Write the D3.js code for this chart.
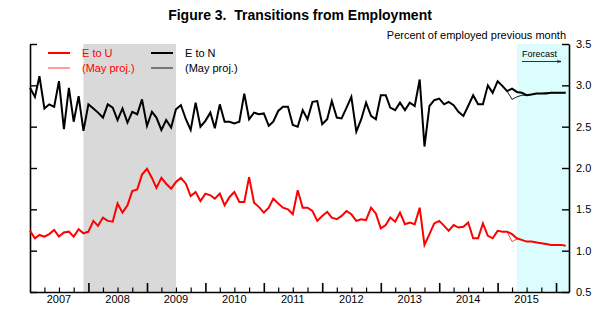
<!DOCTYPE html>
<html>
<head>
<meta charset="utf-8">
<script src="https://cdn.jsdelivr.net/npm/d3@7"></script>
<style>
  body { margin: 0; background: #fff; }
  svg { font-family: "Liberation Sans", Arial, Helvetica, sans-serif; }
  text { white-space: pre; }
</style>
</head>
<body>
<svg id="chart" width="600" height="325"></svg>
<script>
// ---- Data (monthly, Jan 2007 .. Mar 2016) ----
const startYear = 2007;
const eToU = [
  1.24,1.15,1.19,1.17,1.20,1.25,1.17,1.22,1.23,1.17,1.26,1.21,
  1.23,1.36,1.30,1.40,1.36,1.35,1.57,1.46,1.55,1.72,1.74,1.92,
  1.99,1.88,1.76,1.88,1.81,1.75,1.83,1.88,1.81,1.66,1.71,1.60,
  1.69,1.67,1.63,1.69,1.55,1.65,1.71,1.59,1.59,1.89,1.58,1.53,
  1.46,1.52,1.63,1.57,1.52,1.50,1.44,1.73,1.52,1.52,1.48,1.36,
  1.42,1.47,1.40,1.38,1.42,1.48,1.44,1.36,1.38,1.37,1.52,1.45,
  1.27,1.31,1.40,1.35,1.46,1.32,1.34,1.32,1.52,1.07,1.20,1.33,
  1.36,1.30,1.24,1.31,1.28,1.29,1.34,1.15,1.15,1.33,1.18,1.15,
  1.24,1.23,1.23,1.20,1.15,1.13,1.11,1.11,1.10,1.09,1.08,1.07,
  1.07,1.07,1.06
];
const eToN = [
  2.97,2.86,3.11,2.72,2.77,2.74,3.05,2.47,2.97,2.56,2.87,2.45,
  2.77,2.72,2.67,2.61,2.77,2.73,2.58,2.72,2.55,2.68,2.65,2.83,
  2.51,2.68,2.61,2.46,2.58,2.49,2.71,2.76,2.59,2.46,2.79,2.50,
  2.57,2.67,2.48,2.77,2.56,2.56,2.54,2.56,2.90,2.59,2.67,2.65,
  2.66,2.51,2.56,2.69,2.74,2.74,2.52,2.50,2.70,2.59,2.80,2.81,
  2.53,2.59,2.81,2.61,2.60,2.73,2.86,2.44,2.59,2.79,2.63,2.59,
  2.88,2.88,2.73,2.70,2.79,2.70,2.79,2.75,3.07,2.26,2.75,2.82,
  2.84,2.77,2.80,2.76,2.68,2.63,2.75,2.88,2.77,2.77,3.00,2.91,
  3.05,2.99,2.93,2.96,2.92,2.91,2.88,2.89,2.90,2.90,2.90,2.91,
  2.91,2.91,2.91
];
// May projections (start at month index 98 = Mar 2015)
const projStart = 98;
const eToUMay = [1.23,1.11,1.14,1.13,1.11,1.11,1.10,1.09,1.08,1.07,1.07,1.07,1.06];
const eToNMay = [2.93,2.83,2.86,2.88,2.88,2.89,2.90,2.90,2.91,2.91,2.91,2.91,2.91];

const yTicks = [0.5, 1.0, 1.5, 2.0, 2.5, 3.0, 3.5];
const yearLabels = [2007, 2008, 2009, 2010, 2011, 2012, 2013, 2014, 2015];
const recession = [new Date(2007, 11, 1), new Date(2009, 6, 1)];
const forecastStart = new Date(2015, 4, 1);

const title = "Figure 3.  Transitions from Employment";
const unitsLabel = "Percent of employed previous month";

// ---- Layout ----
const svg = d3.select("#chart");
const L = 30, R = 569, T = 44, B = 292;

const x = d3.scaleTime()
  .domain([new Date(2007, 0, 1), new Date(2016, 2, 22)])
  .range([L, R]);
const y = d3.scaleLinear().domain([0.5, 3.5]).range([B, T]);

const monthDate = i => new Date(startYear, i, 1);

// shading
svg.append("rect")
  .attr("x", x(recession[0])).attr("y", T)
  .attr("width", x(recession[1]) - x(recession[0])).attr("height", B - T)
  .attr("fill", "#d9d9d9");
svg.append("rect")
  .attr("x", x(forecastStart)).attr("y", T)
  .attr("width", R - x(forecastStart)).attr("height", B - T)
  .attr("fill", "#dcfdfd");

// axes
const rightAxis = d3.axisRight(y).tickValues(yTicks).tickSizeInner(-7).tickSizeOuter(0)
  .tickPadding(7).tickFormat(d3.format(".1f"));
const gR = svg.append("g").attr("transform", `translate(${R},0)`).call(rightAxis);
gR.select(".domain").attr("stroke-width", 1.6);
gR.selectAll(".tick line").attr("stroke-width", 1.4);
gR.selectAll("text").attr("font-size", 11).attr("fill", "#000");

const leftAxis = d3.axisLeft(y).tickValues(yTicks).tickSizeInner(-7).tickSizeOuter(0).tickFormat("");
const gL = svg.append("g").attr("transform", `translate(${L},0)`).call(leftAxis);
gL.select(".domain").attr("stroke-width", 1.6);
gL.selectAll(".tick line").attr("stroke-width", 1.4);

// bottom axis: major ticks at year starts, minor quarterly
const quarters = d3.timeMonth.every(3).range(new Date(2007, 3, 1), new Date(2016, 2, 22))
  .filter(d => d.getMonth() !== 0);
const yearsTicks = d3.timeYear.range(new Date(2008, 0, 1), new Date(2016, 2, 22));
const gB = svg.append("g").attr("transform", `translate(0,${B})`);
gB.call(d3.axisBottom(x).tickValues(quarters).tickSizeInner(-4.5).tickSizeOuter(0).tickFormat(""));
gB.select(".domain").attr("stroke-width", 1.6);
gB.selectAll(".tick line").attr("stroke-width", 1.2);
const gB2 = svg.append("g").attr("transform", `translate(0,${B})`);
gB2.call(d3.axisBottom(x).tickValues(yearsTicks).tickSizeInner(-9).tickSizeOuter(0).tickFormat(""));
gB2.select(".domain").remove();
gB2.selectAll(".tick line").attr("stroke-width", 1.6);

svg.append("g").selectAll("text").data(yearLabels).join("text")
  .attr("x", d => x(new Date(d, 6, 1)))
  .attr("y", 303)
  .attr("text-anchor", "middle")
  .attr("font-size", 11)
  .text(d => d);

// lines
const line = (offset) => d3.line()
  .x((d, i) => x(monthDate(i + offset)))
  .y(d => y(d));

svg.append("path").datum(eToUMay).attr("d", line(projStart))
  .attr("fill", "none").attr("stroke", "#ff2a2a").attr("stroke-width", 0.9);
svg.append("path").datum(eToNMay).attr("d", line(projStart))
  .attr("fill", "none").attr("stroke", "#000").attr("stroke-width", 0.9);
svg.append("path").datum(eToU).attr("d", line(0))
  .attr("fill", "none").attr("stroke", "#ff0000").attr("stroke-width", 2)
  .attr("stroke-linejoin", "miter");
svg.append("path").datum(eToN).attr("d", line(0))
  .attr("fill", "none").attr("stroke", "#000").attr("stroke-width", 2)
  .attr("stroke-linejoin", "miter");

// title
svg.append("text").attr("x", 300).attr("y", 20).attr("text-anchor", "middle")
  .attr("font-size", 14).attr("font-weight", "bold").text(title);
svg.append("text").attr("x", 566).attr("y", 39).attr("text-anchor", "end")
  .attr("font-size", 11).text(unitsLabel);

// legend
const legend = [
  { x: 48, y: 53, color: "#ff0000", w: 2, label: "E to U" },
  { x: 48, y: 68, color: "#ff2a2a", w: 0.9, label: "(May proj.)" },
  { x: 151, y: 53, color: "#000", w: 2, label: "E to N" },
  { x: 151, y: 68, color: "#000", w: 0.9, label: "(May proj.)" }
];
const lg = svg.append("g").selectAll("g").data(legend).join("g");
lg.append("line").attr("x1", d => d.x).attr("x2", d => d.x + 22)
  .attr("y1", d => d.y).attr("y2", d => d.y)
  .attr("stroke", d => d.color).attr("stroke-width", d => d.w);
lg.append("text").attr("x", d => d.x + 34).attr("y", d => d.y + 4)
  .attr("font-size", 11).attr("fill", d => d.color === "#000" ? "#000" : "#ff0000")
  .text(d => d.label);

// forecast label + arrow
svg.append("defs").append("marker").attr("id", "arrow")
  .attr("viewBox", "0 0 10 10").attr("refX", 9).attr("refY", 5)
  .attr("markerWidth", 6).attr("markerHeight", 6).attr("orient", "auto")
  .append("path").attr("d", "M0,2 L10,5 L0,8").attr("fill", "none").attr("stroke", "#000").attr("stroke-width", 1.2);
svg.append("text").attr("x", 522).attr("y", 56.5).attr("font-size", 9).text("Forecast");
svg.append("line").attr("x1", 522).attr("x2", 561).attr("y1", 61.5).attr("y2", 61.5)
  .attr("stroke", "#000").attr("stroke-width", 0.8).attr("marker-end", "url(#arrow)");
</script>
</body>
</html>
